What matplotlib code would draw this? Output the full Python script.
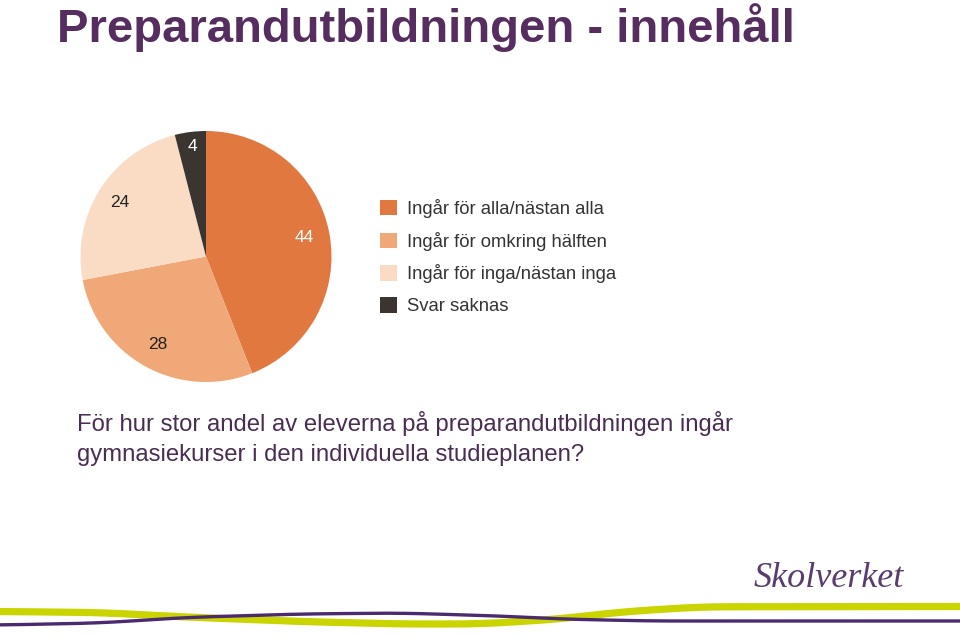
import matplotlib
matplotlib.use("Agg")
import matplotlib.pyplot as plt
import numpy as np

categories = ["Ingår för alla/nästan alla", "Ingår för omkring hälften",
              "Ingår för inga/nästan inga", "Svar saknas"]
values = [44, 28, 24, 4]
colors = ["#E07840", "#F0A878", "#FADCC5", "#3B3532"]
label_colors = ["white", "#222222", "#222222", "white"]
label_dist = [0.8, 0.8, 0.81, 0.88]

title = "Preparandutbildningen - innehåll"
question_lines = ["För hur stor andel av eleverna på preparandutbildningen ingår",
                  "gymnasiekurser i den individuella studieplanen?"]

W, H = 960, 636
fig = plt.figure(figsize=(W / 100, H / 100), dpi=100)
fig.patch.set_facecolor("white")

bg = fig.add_axes([0, 0, 1, 1])
bg.set_xlim(0, W)
bg.set_ylim(H, 0)
bg.axis("off")

# Title
bg.text(57, 42, title, fontsize=34, fontweight="bold", color="#552D5E",
        family="Liberation Sans", ha="left", va="baseline")

# Pie
cx, cy, r = 206, 256.5, 125.5
pax = fig.add_axes([(cx - r) / W, (H - cy - r) / H, 2 * r / W, 2 * r / H])
wedges, texts = pax.pie(values, colors=colors, startangle=90, counterclock=False,
                        labels=[str(v) for v in values], labeldistance=0.82,
                        wedgeprops=dict(linewidth=0),
                        textprops=dict(fontsize=12.5, family="Liberation Sans"))
for w, t, c, d in zip(wedges, texts, label_colors, label_dist):
    ang = np.deg2rad((w.theta1 + w.theta2) / 2)
    t.set_position((d * np.cos(ang), d * np.sin(ang)))
    t.set_color(c)
    t.set_ha("center")
    t.set_va("center")
pax.set_xlim(-1, 1)
pax.set_ylim(-1, 1)
pax.set_aspect("equal")
pax.axis("off")

# Legend
leg = bg.legend(wedges, categories, loc="upper left", bbox_to_anchor=(380, 199),
                bbox_transform=bg.transData, frameon=False, borderpad=0,
                borderaxespad=0, handlelength=0.92, handleheight=0.92,
                handletextpad=0.54, labelspacing=0.74,
                prop=dict(family="Liberation Sans", size=13.3))
for t in leg.get_texts():
    t.set_color("#333333")

# Question text
for i, line in enumerate(question_lines):
    bg.text(77, 431 + 30 * i, line, fontsize=17.2, color="#4A2D52",
            family="Liberation Sans", ha="left", va="baseline")

# Logo
bg.text(754, 587, "Skolverket", fontsize=26, color="#5A3D6E", style="italic",
        family="Liberation Serif", ha="left", va="baseline")

# Decorative swooshes
x = np.linspace(0, W, 961)

def curve(pts, k=30):
    px, py = zip(*pts)
    y = np.interp(x, px, py)
    pad = np.pad(y, k, mode="edge")
    ker = np.ones(2 * k + 1) / (2 * k + 1)
    return np.convolve(pad, ker, mode="valid")

yel = curve([(0, 611.5), (100, 612.5), (185, 617), (300, 621.5), (400, 624),
             (480, 624), (560, 619), (620, 612), (700, 606.8), (960, 606.5)])
pur = curve([(0, 625), (100, 623), (185, 617.5), (300, 614), (400, 613),
             (500, 616), (560, 619), (650, 621), (960, 621)])
bg.plot(x, yel, color="#C9D400", lw=5.2, solid_capstyle="butt")
bg.plot(x, pur, color="#4B2A70", lw=2.4, solid_capstyle="butt")

fig.savefig("out.png", dpi=100, facecolor="white")
